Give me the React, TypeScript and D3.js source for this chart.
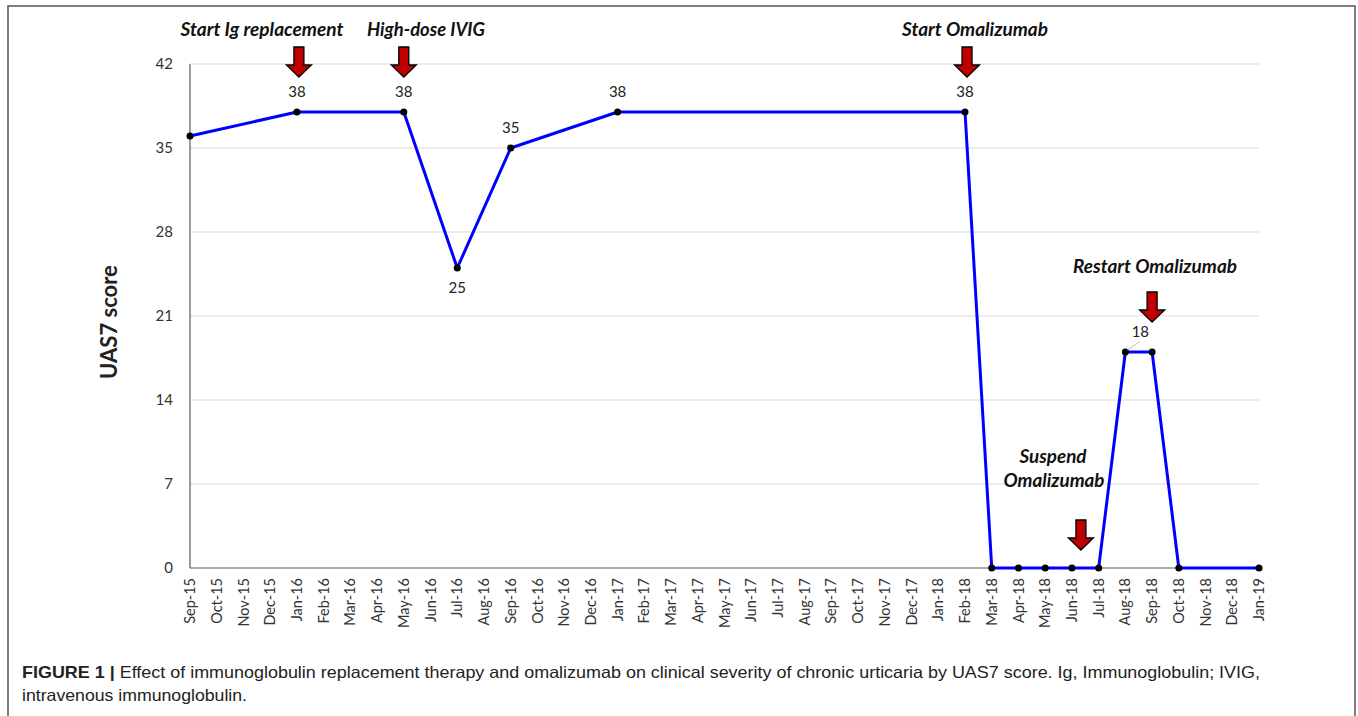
import React from "react";
import * as d3 from "d3";

const months = [
  "Sep-15","Oct-15","Nov-15","Dec-15",
  "Jan-16","Feb-16","Mar-16","Apr-16","May-16","Jun-16","Jul-16","Aug-16","Sep-16","Oct-16","Nov-16","Dec-16",
  "Jan-17","Feb-17","Mar-17","Apr-17","May-17","Jun-17","Jul-17","Aug-17","Sep-17","Oct-17","Nov-17","Dec-17",
  "Jan-18","Feb-18","Mar-18","Apr-18","May-18","Jun-18","Jul-18","Aug-18","Sep-18","Oct-18","Nov-18","Dec-18",
  "Jan-19",
];

const pointMonths = ["Sep-15","Jan-16","May-16","Jul-16","Sep-16","Jan-17","Feb-18","Mar-18","Apr-18","May-18","Jun-18","Jul-18","Aug-18","Sep-18","Oct-18","Jan-19"];
const pointValues = [36, 38, 38, 25, 35, 38, 38, 0, 0, 0, 0, 0, 18, 18, 0, 0];

const labelMonths = ["Jan-16","May-16","Jul-16","Sep-16","Jan-17","Feb-18","Aug-18"];
const labelValues = [38, 38, 25, 35, 38, 38, 18];
const labelPlacement = ["above","above","below","above","above","above","leader"];

const yTicks = [0, 7, 14, 21, 28, 35, 42];

const arrowMonths = ["Jan-16","May-16","Feb-18","Jun-18","Sep-18"];
const arrowShift = [2, 0, 2, 9, 0];
const arrowTop = [47, 47, 47, 520, 292];

const noteLines = ["Start Ig replacement","High-dose IVIG","Start Omalizumab","Suspend","Omalizumab","Restart Omalizumab"];
const noteX = [262, 426, 975, 1053, 1054, 1155];
const noteY = [36, 36, 36, 463, 487, 273];
const noteWidth = [163, 118, 146, 67, 101, 164];

const captionBold = "FIGURE 1 | ";
const captionLine1 = "Effect of immunoglobulin replacement therapy and omalizumab on clinical severity of chronic urticaria by UAS7 score. Ig, Immunoglobulin; IVIG,";
const captionLine2 = "intravenous immunoglobulin.";

const W = 1358, H = 716;
const left = 190, right = 1259, top = 64, bottom = 568;

export default function App() {
  const x = d3.scalePoint<string>().domain(months).range([left, right]);
  const y = d3.scaleLinear().domain([0, 42]).range([bottom, top]);
  const pts = pointMonths.map((m, i) => [x(m) as number, y(pointValues[i])] as [number, number]);
  const line = d3.line<[number, number]>()(pts) || "";
  const font = "Lato, 'Open Sans', sans-serif";

  const arrowPath = (cx: number, t: number) => {
    const sw = 5, hw = 12.5, sh = 18, h = 30;
    return `M${cx - sw},${t} L${cx + sw},${t} L${cx + sw},${t + sh} L${cx + hw},${t + sh} L${cx},${t + h} L${cx - hw},${t + sh} L${cx - sw},${t + sh} Z`;
  };

  return (
    <svg width={W} height={H} style={{ position: "absolute", left: 0, top: 0, background: "#fff" }}>
      <rect x={0} y={0} width={W} height={H} fill="#fff" />
      <path d={`M8,${H} L8,6 L1355,6 L1355,${H}`} fill="none" stroke="#555" strokeWidth={1.5} />

      {yTicks.map((t) => (
        <g key={t}>
          {t > 0 && <line x1={left} x2={right} y1={y(t)} y2={y(t)} stroke="#d9d9d9" strokeWidth={1} />}
          <text x={173} y={y(t)} dy="0.35em" textAnchor="end" fontFamily={font} fontSize={15} fill="#333">{t}</text>
        </g>
      ))}
      <line x1={left} x2={left} y1={top} y2={bottom} stroke="#595959" strokeWidth={1.2} />
      <line x1={left} x2={right} y1={bottom} y2={bottom} stroke="#595959" strokeWidth={1.2} />

      {months.map((m) => (
        <text key={m} transform={`translate(${x(m)},578) rotate(-90)`} dy="0.35em" textAnchor="end" fontFamily={font} fontSize={14.5} fill="#333">{m}</text>
      ))}

      <text transform={`translate(109,322) rotate(-90)`} dy="0.35em" textAnchor="middle" fontFamily={font} fontWeight="bold" fontSize={22} fill="#222">UAS7 score</text>

      <path d={line} fill="none" stroke="#0000ff" strokeWidth={3} strokeLinejoin="round" />
      {pts.map((p, i) => (
        <circle key={i} cx={p[0]} cy={p[1]} r={3.5} fill="#000" />
      ))}

      {labelMonths.map((m, i) => {
        const px = x(m) as number;
        const py = y(labelValues[i]);
        if (labelPlacement[i] === "below") {
          return <text key={m} x={px} y={py + 25} textAnchor="middle" fontFamily={font} fontSize={15} fill="#222">{labelValues[i]}</text>;
        }
        if (labelPlacement[i] === "leader") {
          return (
            <g key={m}>
              <line x1={px + 2} y1={py - 2} x2={px + 14} y2={py - 10} stroke="#bbb" strokeWidth={1} />
              <text x={px + 15} y={py - 15} textAnchor="middle" fontFamily={font} fontSize={15} fill="#222">{labelValues[i]}</text>
            </g>
          );
        }
        return <text key={m} x={px} y={py - 15} textAnchor="middle" fontFamily={font} fontSize={15} fill="#222">{labelValues[i]}</text>;
      })}

      {arrowMonths.map((m, i) => (
        <path key={m} d={arrowPath((x(m) as number) + arrowShift[i], arrowTop[i])} fill="#c00000" stroke="#000" strokeWidth={1.3} strokeLinejoin="miter" />
      ))}

      {noteLines.map((t, i) => (
        <text key={i} x={noteX[i] - noteWidth[i] / 2} y={noteY[i]} fontFamily={font} fontWeight="bold" fontStyle="italic" fontSize={18} fill="#111" textLength={noteWidth[i]} lengthAdjust="spacingAndGlyphs">{t}</text>
      ))}

      <text x={22} y={678} fontFamily="'Liberation Sans', Arial, sans-serif" fontSize={16.5} fill="#222" textLength={1238} lengthAdjust="spacingAndGlyphs">
        <tspan fontWeight="bold">{captionBold}</tspan>
        <tspan>{captionLine1}</tspan>
      </text>
      <text x={22} y={701} fontFamily="'Liberation Sans', Arial, sans-serif" fontSize={16.5} fill="#222" textLength={225} lengthAdjust="spacingAndGlyphs">{captionLine2}</text>
    </svg>
  );
}
